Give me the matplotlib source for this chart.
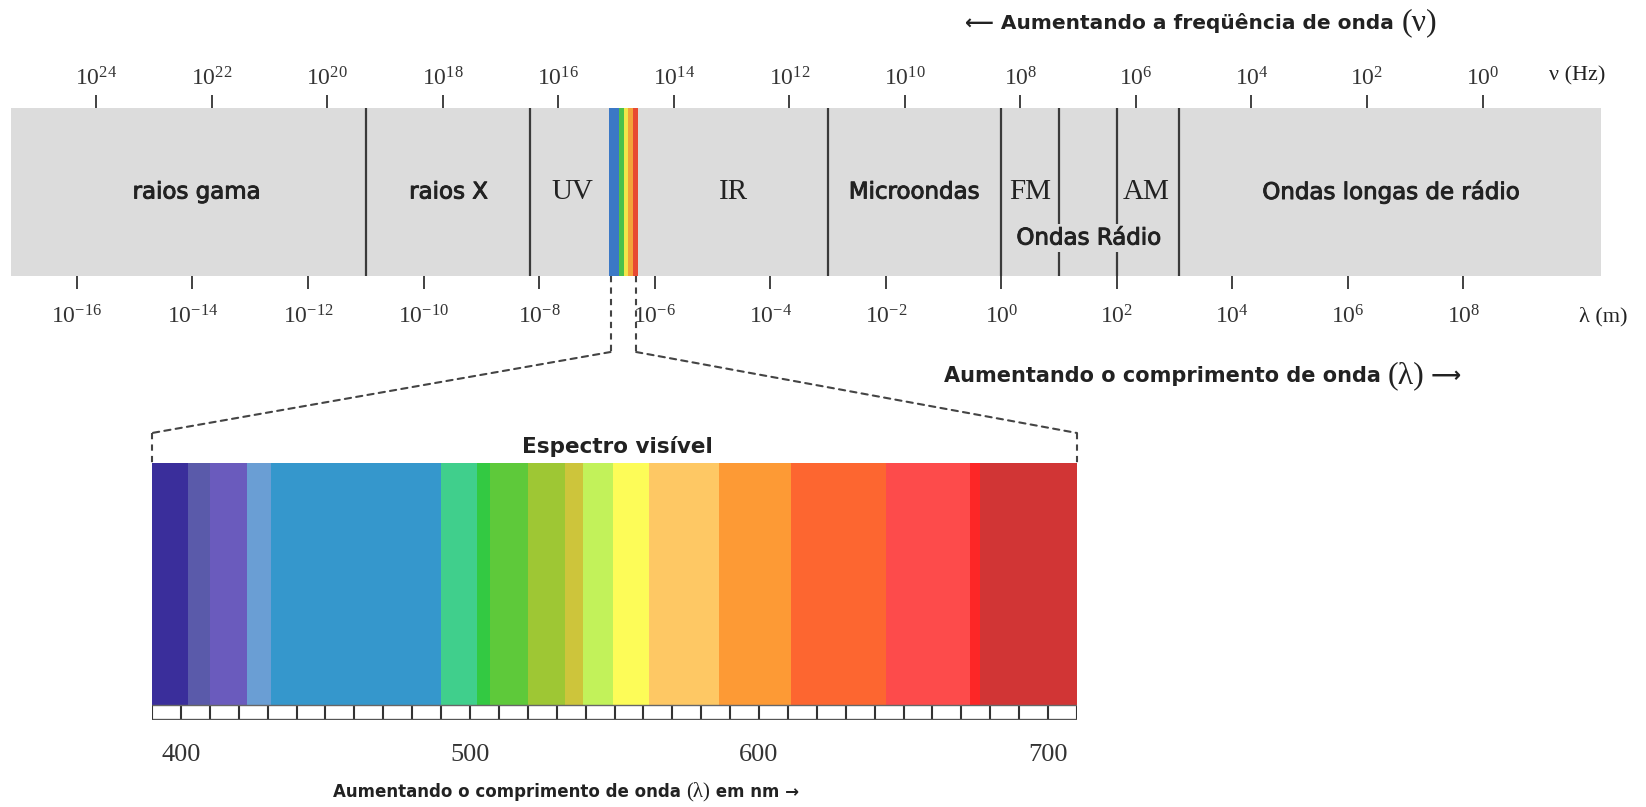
import matplotlib
matplotlib.use("Agg")
import matplotlib.pyplot as plt
from matplotlib.patches import ConnectionPatch
import matplotlib.patheffects as pe

plt.rcParams['mathtext.fontset'] = 'custom'
plt.rcParams['mathtext.rm'] = 'Liberation Serif'
plt.rcParams['mathtext.it'] = 'Liberation Serif:italic'
plt.rcParams['mathtext.bf'] = 'Liberation Serif:bold'
plt.rcParams['font.family'] = ['DejaVu Sans']

# ---------------- data ----------------
wavelength_exponents = [-16, -14, -12, -10, -8, -6, -4, -2, 0, 2, 4, 6, 8]   # log10(lambda / m)
frequency_exponents = [24, 22, 20, 18, 16, 14, 12, 10, 8, 6, 4, 2, 0]        # log10(nu / Hz)
FREQ_SHIFT = 8.33   # log10(lambda) = FREQ_SHIFT - log10(nu) as drawn

region_boundaries = [-11.0, -8.15, -3.0, 0.0, 1.0, 2.0, 3.08]
region_labels = ["raios gama", "raios X", "UV", "IR", "Microondas", "FM", "AM",
                 "Ondas longas de rádio"]
region_label_pos = [-13.93, -9.57, -7.42, -4.64, -1.51, 0.50, 2.50, 6.74]
region_label_serif = [False, False, True, True, False, True, True, False]
radio_label = "Ondas Rádio"
radio_label_pos = 1.51

rainbow_edges = [-6.794, -6.620, -6.534, -6.464, -6.378, -6.291]
rainbow_colors = ['#3b78c6', '#4cc04c', '#f2e64a', '#f4a23a', '#e84a32']

vis_start = [390, 402.5, 410, 423, 431, 490, 502.5, 507, 520, 533, 539, 549.5, 562,
             586, 611, 644, 673, 676.5]
vis_end = [402.5, 410, 423, 431, 490, 502.5, 507, 520, 533, 539, 549.5, 562, 586,
           611, 644, 673, 676.5, 710]
vis_colors = ['#3a2e9b', '#5a5aaa', '#6a5bbd', '#6a9ed4', '#3597cc', '#40cf8c',
              '#33c942', '#5ec93a', '#9ec734', '#cdc53b', '#c2f25a', '#fdfc58',
              '#fec864', '#fd9a35', '#fd6630', '#fd4b4b', '#fd2626', '#d13535']
vis_tick_nm = list(range(390, 711, 10))
vis_label_nm = [400, 500, 600, 700]

# ---------------- figure ----------------
W, H = 1646, 807
fig = plt.figure(figsize=(W / 100, H / 100), dpi=100)
fig.patch.set_facecolor('white')

TXT = '#222222'
LINE = '#3a3a3a'
HEAVY = [pe.withStroke(linewidth=0.7, foreground=TXT)]

# main spectrum bar
ax1 = fig.add_axes([10.5 / W, 1 - 276 / H, (1601 - 10.5) / W, 168 / H])
ax1.set_xlim(-17.15, 10.38)
ax1.set_ylim(0, 1)
ax1.set_facecolor('#dcdcdc')
for s in ax1.spines.values():
    s.set_visible(False)
ax1.set_yticks([])
ax1.set_xticks(wavelength_exponents)
ax1.set_xticklabels([r'$\mathrm{10^{%d}}$' % e for e in wavelength_exponents])
ax1.tick_params(axis='x', direction='out', length=9.5, width=1.3, color='#333333',
                pad=11, labelsize=17, labelcolor='#333333')

sec = ax1.secondary_xaxis('top', functions=(lambda L: FREQ_SHIFT - L,
                                            lambda n: FREQ_SHIFT - n))
sec.set_xticks(frequency_exponents)
sec.set_xticklabels([r'$\mathrm{10^{%d}}$' % e for e in frequency_exponents])
sec.tick_params(axis='x', direction='out', length=9.5, width=1.3, color='#333333',
                pad=3, labelsize=17, labelcolor='#333333')
for s in sec.spines.values():
    s.set_visible(False)

# rainbow strip
ax1.bar(rainbow_edges[:-1],
        [1] * len(rainbow_colors),
        width=[b - a for a, b in zip(rainbow_edges[:-1], rainbow_edges[1:])],
        bottom=0, align='edge', color=rainbow_colors, linewidth=0)

# region boundaries
ax1.vlines(region_boundaries, 0, 1, colors=LINE, linewidth=1.6)

for lab, pos, serif in zip(region_labels, region_label_pos, region_label_serif):
    if serif:
        ax1.text(pos, 0.5, lab, ha='center', va='center', fontsize=21,
                 family='Liberation Serif', color=TXT)
    else:
        ax1.text(pos, 0.5, lab, ha='center', va='center', fontsize=16.5, color=TXT,
                 path_effects=HEAVY)
ax1.text(radio_label_pos, 0.226, radio_label, ha='center', va='center', fontsize=16.5,
         color=TXT, path_effects=HEAVY,
         bbox=dict(facecolor='#dcdcdc', edgecolor='none', pad=2))

# axis unit labels
ax1.text(9.97, 1.19, 'ν (Hz)', ha='center', va='center', fontsize=16,
         family='Liberation Serif', color=TXT, clip_on=False)
ax1.text(10.42, -0.24, 'λ (m)', ha='center', va='center', fontsize=16,
         family='Liberation Serif', color=TXT, clip_on=False)

# top title
t1 = ax1.text(-0.62, 1.506, '⟵ Aumentando a freqüência de onda ', ha='left', va='center',
              fontsize=14.5, fontweight='bold', color=TXT, clip_on=False)
ax1.annotate('(ν)', xy=(1, 0.5), xycoords=t1, ha='left', va='center', fontsize=23,
             family='Liberation Serif', color=TXT)

# lower-right title
t2 = ax1.text(-1.0, -0.595, 'Aumentando o comprimento de onda ', ha='left', va='center',
              fontsize=15, fontweight='bold', color=TXT, clip_on=False)
t3 = ax1.annotate('(λ)', xy=(1, 0.5), xycoords=t2, ha='left', va='center', fontsize=23,
                  family='Liberation Serif', color=TXT)
ax1.annotate(' ⟶', xy=(1, 0.5), xycoords=t3, ha='left', va='center', fontsize=15,
             fontweight='bold', color=TXT)

# visible spectrum
ax2 = fig.add_axes([152 / W, 1 - 720 / H, (1077 - 152) / W, (720 - 425) / H])
ax2.set_xlim(390, 710)
ax2.set_ylim(720, 425)
ax2.patch.set_alpha(0)
for s in ax2.spines.values():
    s.set_visible(False)
ax2.set_yticks([])
ax2.bar(vis_start, [463 - 705] * len(vis_start),
        width=[b - a for a, b in zip(vis_start, vis_end)],
        bottom=705, align='edge', color=vis_colors, linewidth=0)
ax2.vlines(vis_tick_nm, 705, 720, colors='#333333', linewidth=1.5)
ax2.hlines(705, 390, 710, colors='#666666', linewidth=1.0)
ax2.hlines(720, 390, 710, colors='#555555', linewidth=2.4)
ax2.set_xticks(vis_label_nm)
ax2.set_xticklabels([str(v) for v in vis_label_nm])
ax2.tick_params(axis='x', length=0, pad=17, labelsize=19, labelcolor='#333333')
for lab in ax2.get_xticklabels():
    lab.set_family('Liberation Serif')

ax2.text(551, 446, 'Espectro visível', ha='center', va='center', fontsize=15.5,
         fontweight='bold', color=TXT)

t4 = ax2.text(452.6, 792, 'Aumentando o comprimento de onda ', ha='left', va='center',
              fontsize=12, fontweight='bold', color=TXT, clip_on=False)
t5 = ax2.annotate('(λ)', xy=(1, 0.5), xycoords=t4, ha='left', va='center', fontsize=15,
                  family='Liberation Serif', color=TXT)
ax2.annotate(' em nm →', xy=(1, 0.5), xycoords=t5, ha='left', va='center', fontsize=12,
             fontweight='bold', color=TXT)

# dashed connectors
DASH = dict(color='#444444', linewidth=1.5, linestyle=(0, (3, 2.5)))
y_turn = (276 - 352) / 168
for edge_L, edge_nm in [(rainbow_edges[0] + 0.03, 390), (rainbow_edges[-1] - 0.03, 710)]:
    ax1.plot([edge_L, edge_L], [0, y_turn], clip_on=False, **DASH)
    cp = ConnectionPatch(xyA=(edge_L, y_turn), coordsA=ax1.transData,
                         xyB=(edge_nm, 433), coordsB=ax2.transData, **DASH)
    fig.add_artist(cp)
    ax2.plot([edge_nm, edge_nm], [433, 463], clip_on=False, **DASH)

fig.savefig('out.png', dpi=100, facecolor='white')
